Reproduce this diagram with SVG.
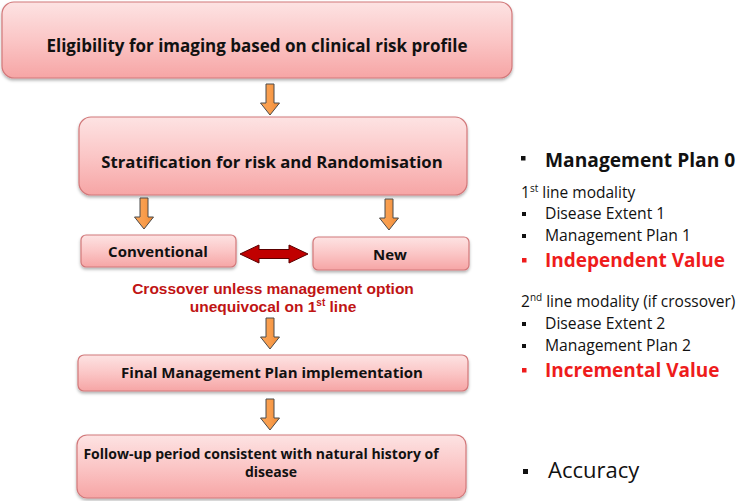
<svg xmlns="http://www.w3.org/2000/svg" width="742" height="501" viewBox="0 0 742 501">
<defs>
<linearGradient id="pink" x1="0" y1="0" x2="0" y2="1">
<stop offset="0" stop-color="#fde3e3"/>
<stop offset="0.5" stop-color="#fbc6c6"/>
<stop offset="1" stop-color="#f6a5a5"/>
</linearGradient>
<linearGradient id="orange" x1="0" y1="0" x2="1" y2="0">
<stop offset="0" stop-color="#f8a45a"/>
<stop offset="0.5" stop-color="#f99d4c"/>
<stop offset="1" stop-color="#ee8a36"/>
</linearGradient>
<filter id="sh" x="-5%" y="-10%" width="110%" height="130%">
<feDropShadow dx="0" dy="2" stdDeviation="1.5" flood-color="#000" flood-opacity="0.3"/>
</filter>
<path id="down" d="M-4,0 H4 V19 H9.5 L0,31 L-9.5,19 H-4 Z"/>
</defs>
<style>
.box{fill:url(#pink);stroke:#d2787a;stroke-width:1.2;filter:url(#sh)}
.t{font-family:"Open Sans","Liberation Sans",sans-serif;font-weight:bold;fill:#111;text-anchor:middle}
.arr{fill:url(#orange);stroke:#4a4a4a;stroke-width:1}
.r{font-family:"Open Sans","Liberation Sans",sans-serif;fill:#111}
.rb{font-weight:bold;fill:#ee1c1c}
.cross{font-family:"Liberation Sans",Arial,sans-serif;font-weight:bold;fill:#c01414;font-size:15.5px;text-anchor:middle}
</style>

<g id="n1">
<rect class="box" x="2" y="2" width="510" height="76" rx="12"/>
<text class="t" x="257" y="52" font-size="17">Eligibility for imaging based on clinical risk profile</text>
</g>
<g id="n2">
<rect class="box" x="79" y="117" width="388" height="78" rx="12"/>
<text class="t" x="272" y="168" font-size="16.7">Stratification for risk and Randomisation</text>
</g>
<g id="n3">
<rect class="box" x="81" y="235" width="155" height="32" rx="5"/>
<text class="t" x="158" y="257" font-size="15">Conventional</text>
</g>
<g id="n4">
<rect class="box" x="313" y="237" width="156" height="33" rx="5"/>
<text class="t" x="390" y="260" font-size="15">New</text>
</g>
<g id="n5">
<text class="cross" x="273" y="294">Crossover unless management option</text>
<text class="cross" x="273" y="312">unequivocal on 1<tspan font-size="10" dy="-6">st</tspan><tspan dy="6"> line</tspan></text>
</g>
<g id="n6">
<rect class="box" x="78" y="355" width="390" height="36" rx="6"/>
<text class="t" x="272" y="378" font-size="15">Final Management Plan implementation</text>
</g>
<g id="n7">
<rect class="box" x="77" y="435" width="389" height="63" rx="10"/>
<text class="t" x="261" y="459" font-size="14">Follow-up period consistent with natural history of</text>
<text class="t" x="271" y="477" font-size="14">disease</text>
</g>

<g id="connectors">
<use href="#down" class="arr" x="270" y="84"/>
<use href="#down" class="arr" x="144" y="198"/>
<use href="#down" class="arr" x="389" y="199"/>
<use href="#down" class="arr" x="270" y="318"/>
<use href="#down" class="arr" x="270" y="399"/>
<path d="M240,254 L259,245 V249.5 H289 V245 L308,254 L289,263 V258.5 H259 V263 Z" fill="#c00000" stroke="#5a0000" stroke-width="1"/>
</g>

<g id="legend">
<rect x="521" y="156" width="4.5" height="4.5" fill="#111"/>
<text class="r" x="545" y="167" font-size="19.2" font-weight="bold" font-family="Liberation Sans,Arial,sans-serif">Management Plan 0</text>
<text class="r" x="521" y="198" font-size="15.5">1<tspan font-size="10" dy="-6">st</tspan><tspan dy="6"> line modality</tspan></text>
<rect x="522" y="212" width="4" height="4" fill="#111"/>
<text class="r" x="545" y="219" font-size="15.7">Disease Extent 1</text>
<rect x="522" y="234" width="4" height="4" fill="#111"/>
<text class="r" x="545" y="241" font-size="15.7">Management Plan 1</text>
<rect x="522" y="258" width="4.5" height="4.5" fill="#ee1c1c"/>
<text class="r rb" x="545" y="267" font-size="19">Independent Value</text>
<text class="r" x="521" y="307" font-size="15.5">2<tspan font-size="10" dy="-6">nd</tspan><tspan dy="6"> line modality (if crossover)</tspan></text>
<rect x="522" y="322" width="4" height="4" fill="#111"/>
<text class="r" x="545" y="329" font-size="15.7">Disease Extent 2</text>
<rect x="522" y="344" width="4" height="4" fill="#111"/>
<text class="r" x="545" y="351" font-size="15.7">Management Plan 2</text>
<rect x="522" y="368" width="4.5" height="4.5" fill="#ee1c1c"/>
<text class="r rb" x="545" y="377" font-size="19">Incremental Value</text>
<rect x="523" y="469" width="5" height="5" fill="#111"/>
<text class="r" x="548" y="478" font-size="22" font-family="Liberation Sans,Arial,sans-serif">Accuracy</text>
</g>
</svg>
